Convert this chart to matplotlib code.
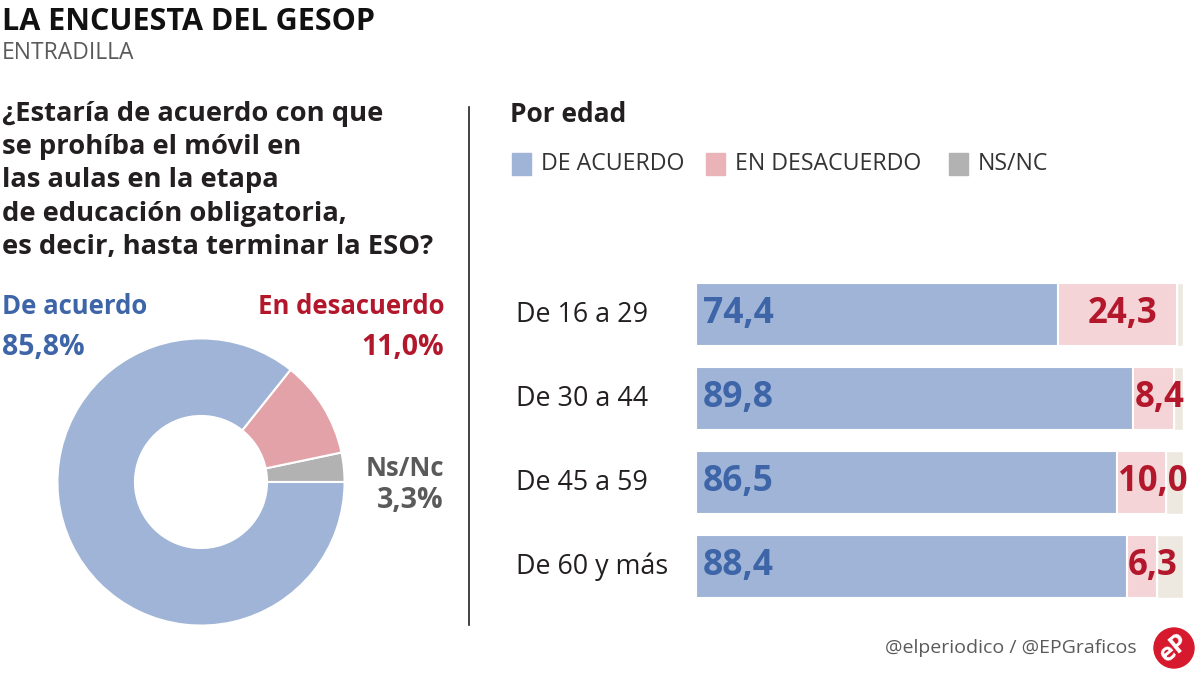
import numpy as np
import matplotlib
matplotlib.use("Agg")
import matplotlib.pyplot as plt
from matplotlib.patches import Rectangle, Ellipse

plt.rcParams['font.family'] = ['Open Sans', 'DejaVu Sans']

# data
pie_labels = ['Ns/Nc', 'En desacuerdo', 'De acuerdo']
pie_values = [3.3, 11.0, 85.8]

age_groups = ['De 16 a 29', 'De 30 a 44', 'De 45 a 59', 'De 60 y más']
acuerdo = [74.4, 89.8, 86.5, 88.4]
desacuerdo = [24.3, 8.4, 10.0, 6.3]
nsnc = [1.3, 1.8, 3.5, 5.3]

legend_names = ['DE ACUERDO', 'EN DESACUERDO', 'NS/NC']

# colours
BLUE = '#9fb4d6'
PINK = '#e3a2a8'
GREY = '#b2b2b2'
PINK_BAR = '#f5d4d7'
NS_BAR = '#ede9e1'
TXT_BLUE = '#3d65a8'
TXT_RED = '#b3172c'
TXT_GREY = '#5a5a5a'
TXT_DARK = '#231f20'

W, H = 1200, 675
fig = plt.figure(figsize=(12, 6.75), dpi=100)
fig.patch.set_facecolor('white')


def px(x, y):
    return x / W, 1 - y / H


def ftext(x, y, s, size, color=TXT_DARK, weight='normal', ha='left', va='center'):
    fig.text(*px(x, y), s, fontsize=size, color=color, fontweight=weight, ha=ha, va=va)


def axes_px(left, top, width, height):
    return fig.add_axes([left / W, 1 - (top + height) / H, width / W, height / H])


def fmt(v):
    return str(v).replace('.', ',')


# header
ftext(2, 22, 'LA ENCUESTA DEL GESOP', 22, weight='bold', color='#111111')
ftext(2, 53, 'ENTRADILLA', 16.5, color=TXT_GREY)

question = ['¿Estaría de acuerdo con que', 'se prohíba el móvil en', 'las aulas en la etapa',
            'de educación obligatoria,', 'es decir, hasta terminar la ESO?']
for i, line in enumerate(question):
    ftext(2, 114 + i * 33.2, line, 19.7, weight='bold')

# donut
ax_pie = axes_px(56, 337, 290, 290)
ax_pie.pie(pie_values, colors=[GREY, PINK, BLUE], startangle=0, counterclock=True,
           radius=1, wedgeprops=dict(width=0.54, edgecolor='white', linewidth=1.5))
ax_pie.set_xlim(-1.01, 1.01)
ax_pie.set_ylim(-1.01, 1.01)
ax_pie.set_aspect('equal')

ftext(2, 307, pie_labels[2], 18.5, color=TXT_BLUE, weight='bold')
ftext(2, 347, fmt(pie_values[2]) + '%', 20.5, color=TXT_BLUE, weight='bold')
ftext(444, 307, pie_labels[1], 18.5, color=TXT_RED, weight='bold', ha='right')
ftext(444, 347, fmt(pie_values[1]) + '%', 20.5, color=TXT_RED, weight='bold', ha='right')
ftext(444, 469, pie_labels[0], 18.5, color=TXT_GREY, weight='bold', ha='right')
ftext(444, 500, fmt(pie_values[0]) + '%', 20.5, color=TXT_GREY, weight='bold', ha='right')

# divider
fig.add_artist(plt.Line2D([469 / W, 469 / W], [1 - 107 / H, 1 - 625 / H], color='#222222', lw=1.2))

# right panel header + legend
ftext(510, 115, 'Por edad', 19, weight='bold')
leg_x = [512, 706, 949]
for x0, name, col in zip(leg_x, legend_names, [BLUE, '#eab3b8', GREY]):
    fig.add_artist(Rectangle(px(x0, 175), 19 / W, 22 / H, color=col, transform=fig.transFigure))
    ftext(x0 + 29, 164, name, 16.7, color='#333333')

# stacked bars
ax = axes_px(696, 272.5, 487, 336)
y = np.arange(len(age_groups))
ax.barh(y, acuerdo, height=0.75, color=BLUE, edgecolor='white', linewidth=1.5)
ax.barh(y, desacuerdo, left=acuerdo, height=0.75, color=PINK_BAR, edgecolor='white', linewidth=1.5)
left3 = np.array(acuerdo) + np.array(desacuerdo)
ax.barh(y, nsnc, left=left3, height=0.75, color=NS_BAR, edgecolor='white', linewidth=1.0)
ax.set_xlim(0, 100)
ax.set_ylim(3.5, -0.5)
ax.axis('off')

for i, g in enumerate(age_groups):
    ax.text(-180 / 487, i, g, transform=ax.get_yaxis_transform(), fontsize=19.4,
            color=TXT_DARK, ha='left', va='center')
    ax.text(1.4, i, fmt(acuerdo[i]), fontsize=25.5, fontweight='bold',
            color=TXT_BLUE, ha='left', va='center')
    lbl = fmt(desacuerdo[i])
    if desacuerdo[i] > 15:
        ax.text(acuerdo[i] + desacuerdo[i] / 2 + 1, i, lbl, fontsize=25, fontweight='bold',
                color=TXT_RED, ha='center', va='center')
    else:
        ax.text(acuerdo[i] + 0.2, i, lbl, fontsize=25, fontweight='bold',
                color=TXT_RED, ha='left', va='center', clip_on=False)

# footer
ftext(1137, 648, '@elperiodico / @EPGraficos', 14, color=TXT_GREY, ha='right')
fig.add_artist(Ellipse(px(1174, 648), 40 / W, 40 / H, color='#d7192d', transform=fig.transFigure))
fig.text(*px(1174, 648), 'eP', fontsize=18, color='white', fontweight='bold', ha='center',
         va='center', rotation=40)

fig.savefig('out.png', dpi=100, facecolor='white')
